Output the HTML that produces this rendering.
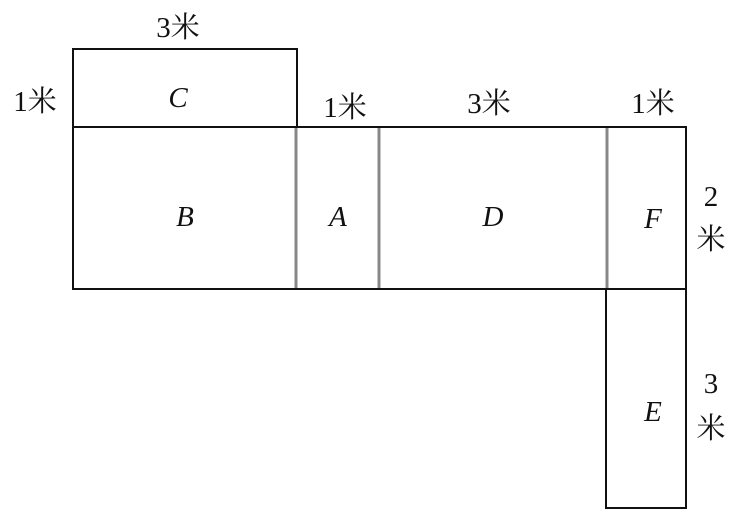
<!DOCTYPE html>
<html><head><meta charset="utf-8"><style>
html,body{margin:0;padding:0;background:#fff;}
svg{display:block;}
text{font-family:"Liberation Serif","Noto Serif CJK SC","Noto Sans CJK SC",serif;fill:#111;}
.l{font-style:italic;font-size:29px;}
.m{font-size:29px;}
</style></head><body>
<svg width="739" height="514" viewBox="0 0 739 514">
<g fill="none" stroke="#111" stroke-width="2">
<rect x="73" y="49" width="224" height="78"/>
<rect x="73" y="127" width="613" height="162"/>
<rect x="606" y="289" width="80" height="219"/>
</g>
<g stroke="#888" stroke-width="3">
<line x1="296" y1="128" x2="296" y2="288"/>
<line x1="379" y1="128" x2="379" y2="288"/>
<line x1="607" y1="128" x2="607" y2="288"/>
</g>
<g text-anchor="middle">
<text class="l" x="178" y="107">C</text>
<text class="l" x="185" y="226">B</text>
<text class="l" x="338" y="226">A</text>
<text class="l" x="493" y="226">D</text>
<text class="l" x="653" y="228">F</text>
<text class="l" x="653" y="421">E</text>
<text class="m" x="178" y="37">3米</text>
<text class="m" x="35" y="111">1米</text>
<text class="m" x="345" y="117">1米</text>
<text class="m" x="489" y="113">3米</text>
<text class="m" x="653" y="113">1米</text>
<text class="m" x="711" y="206">2</text>
<text class="m" x="711" y="249">米</text>
<text class="m" x="711" y="393">3</text>
<text class="m" x="711" y="438">米</text>
</g>
</svg>
</body></html>
